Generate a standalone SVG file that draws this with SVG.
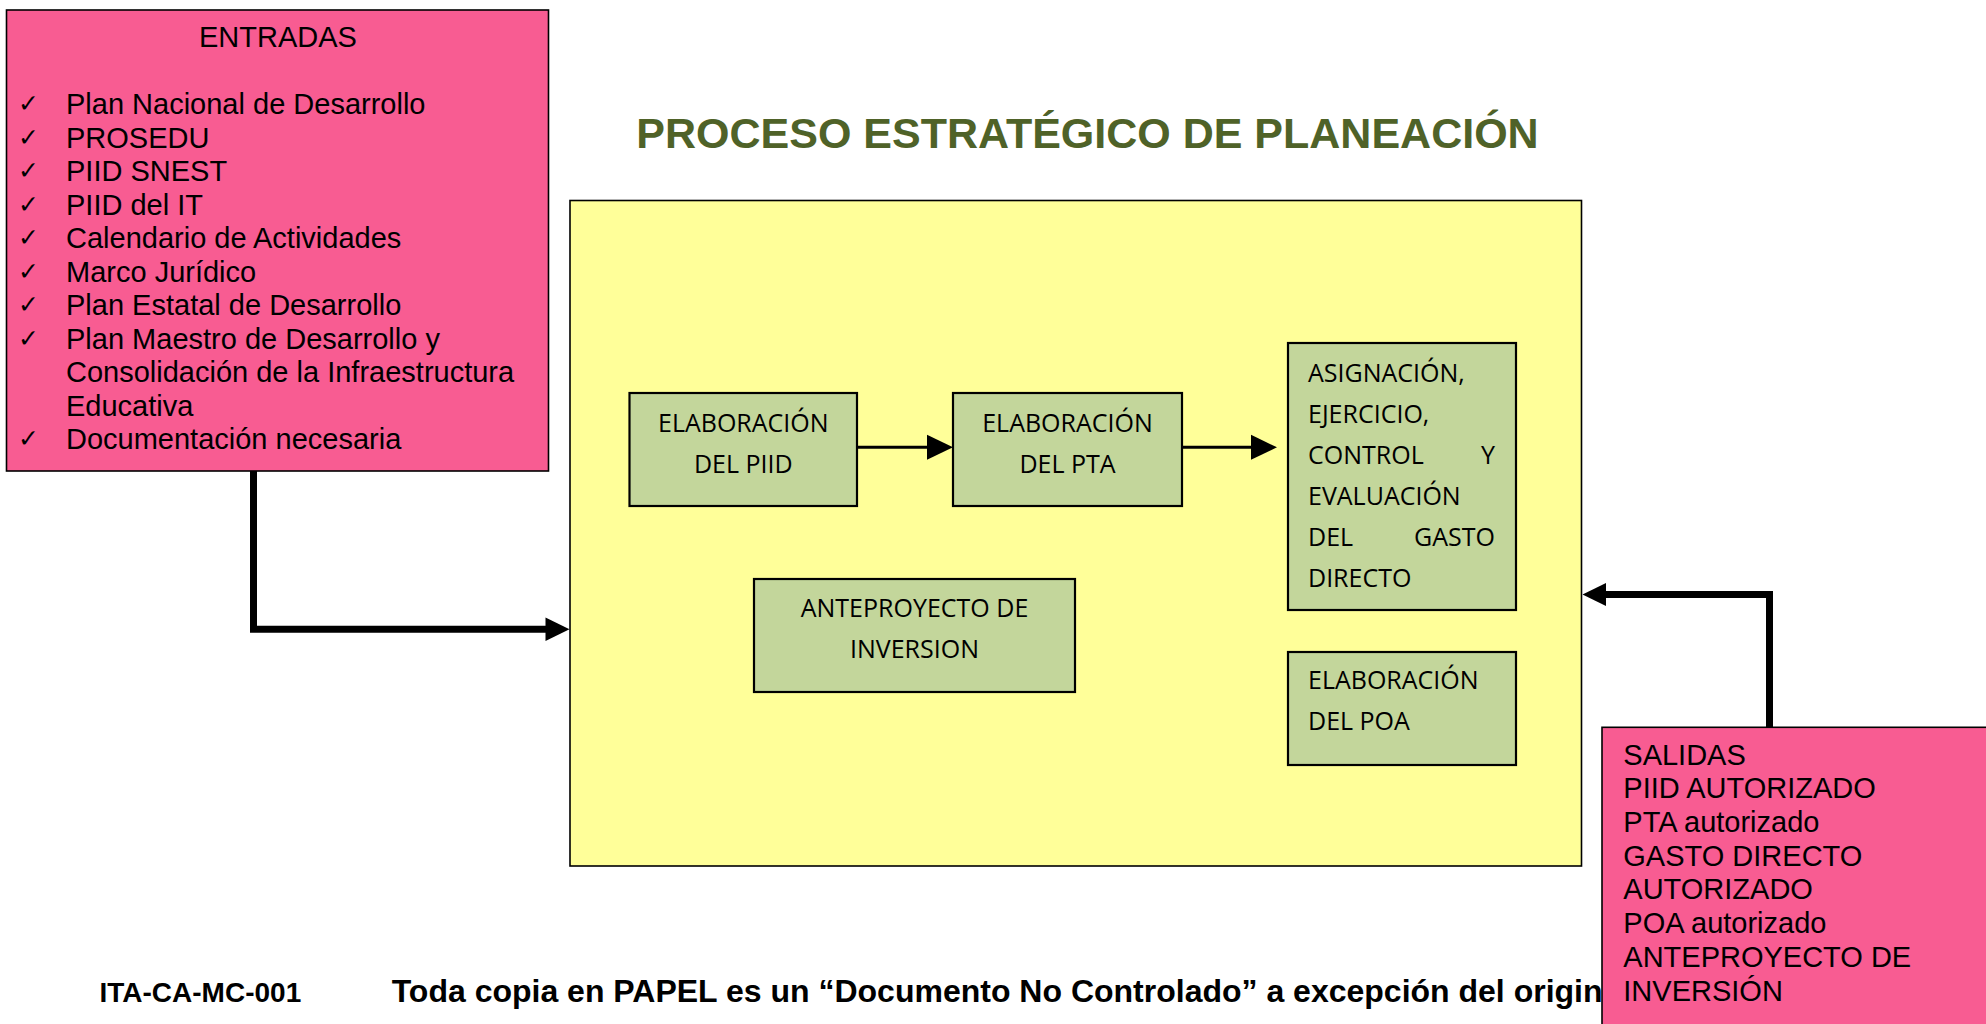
<svg xmlns="http://www.w3.org/2000/svg" width="1986" height="1024" viewBox="0 0 1986 1024">
<style>
.bg{fill:#ffffff}
.pink{fill:#F85C92;stroke:#000;stroke-width:1.6}
.yellow{fill:#FFFF99;stroke:#000;stroke-width:1.6}
.green{fill:#C3D69B;stroke:#000;stroke-width:2.2}
.arial{font-family:"Liberation Sans",Arial,sans-serif;font-size:29px;fill:#000}
.check{font-family:"DejaVu Sans",sans-serif;font-size:25px;fill:#000}
.cal{font-family:"Open Sans","Liberation Sans",sans-serif;font-size:25px;fill:#000}
.title{font-family:"Liberation Sans",Arial,sans-serif;font-size:43px;font-weight:bold;fill:#4F6228}
.foot{font-family:"Liberation Sans",Arial,sans-serif;font-weight:bold;fill:#000}
.thick{fill:none;stroke:#000;stroke-width:7;stroke-linejoin:miter}
.thin{fill:none;stroke:#000;stroke-width:3}
.head{fill:#000}
</style>
<rect class="bg" x="0" y="0" width="1986" height="1024"/>

<g id="title">
<text class="title" x="1087.5" y="148" text-anchor="middle">PROCESO ESTRATÉGICO DE PLANEACIÓN</text>
</g>

<g id="proceso">
<rect class="yellow" x="570" y="200.5" width="1011.5" height="665.5"/>
</g>

<g id="entradas">
<rect class="pink" x="6.5" y="10" width="542" height="461"/>
<text class="arial" x="278" y="46.7" text-anchor="middle">ENTRADAS</text>
<g class="check">
<text x="18" y="112">✓</text>
<text x="18" y="145.5">✓</text>
<text x="18" y="179">✓</text>
<text x="18" y="212.5">✓</text>
<text x="18" y="246">✓</text>
<text x="18" y="279.5">✓</text>
<text x="18" y="313">✓</text>
<text x="18" y="346.5">✓</text>
<text x="18" y="447">✓</text>
</g>
<text class="arial" x="66" y="114">Plan Nacional de Desarrollo</text>
<text class="arial" x="66" y="147.5">PROSEDU</text>
<text class="arial" x="66" y="181">PIID SNEST</text>
<text class="arial" x="66" y="214.5">PIID del IT</text>
<text class="arial" x="66" y="248">Calendario de Actividades</text>
<text class="arial" x="66" y="281.5">Marco Jurídico</text>
<text class="arial" x="66" y="315">Plan Estatal de Desarrollo</text>
<text class="arial" x="66" y="348.5">Plan Maestro de Desarrollo y</text>
<text class="arial" x="66" y="382">Consolidación de la Infraestructura</text>
<text class="arial" x="66" y="415.5">Educativa</text>
<text class="arial" x="66" y="449">Documentación necesaria</text>
</g>

<g id="piid">
<rect class="green" x="629.5" y="393" width="227.5" height="113"/>
<text class="cal" x="743.3" y="431.7" text-anchor="middle">ELABORACIÓN</text>
<text class="cal" x="743.3" y="472.7" text-anchor="middle">DEL PIID</text>
</g>

<g id="pta">
<rect class="green" x="953" y="393" width="229" height="113"/>
<text class="cal" x="1067.5" y="431.7" text-anchor="middle">ELABORACIÓN</text>
<text class="cal" x="1067.5" y="472.7" text-anchor="middle">DEL PTA</text>
</g>

<g id="asignacion">
<rect class="green" x="1288" y="343" width="228" height="267"/>
<text class="cal" x="1308" y="381.7">ASIGNACIÓN,</text>
<text class="cal" x="1308" y="422.7">EJERCICIO,</text>
<text class="cal" x="1308" y="463.5">CONTROL</text>
<text class="cal" x="1495" y="463.5" text-anchor="end">Y</text>
<text class="cal" x="1308" y="504.7">EVALUACIÓN</text>
<text class="cal" x="1308" y="545.7">DEL</text>
<text class="cal" x="1495" y="545.7" text-anchor="end">GASTO</text>
<text class="cal" x="1308" y="586.7">DIRECTO</text>
</g>

<g id="anteproyecto">
<rect class="green" x="754" y="579" width="321" height="113"/>
<text class="cal" x="914.5" y="616.7" text-anchor="middle">ANTEPROYECTO DE</text>
<text class="cal" x="914.5" y="658.3" text-anchor="middle">INVERSION</text>
</g>

<g id="poa">
<rect class="green" x="1288" y="652" width="228" height="113"/>
<text class="cal" x="1308" y="689.3">ELABORACIÓN</text>
<text class="cal" x="1308" y="730">DEL POA</text>
</g>

<g id="footer">
<text class="foot" x="99.5" y="1001.7" font-size="28">ITA-CA-MC-001</text>
<text class="foot" x="391.7" y="1001.7" font-size="32">Toda copia en PAPEL es un “Documento No Controlado” a excepción del original</text>
</g>

<g id="connectors">
<line class="thin" x1="857" y1="447.3" x2="929" y2="447.3"/>
<polygon class="head" points="953,447.3 927,434.8 927,459.8"/>
<line class="thin" x1="1182" y1="447.3" x2="1253" y2="447.3"/>
<polygon class="head" points="1277,447.3 1251,434.8 1251,459.8"/>
<path class="thick" d="M253.5,471 V629.3 H547"/>
<polygon class="head" points="569.5,629.3 545.5,617.5 545.5,641.1"/>
<path class="thick" d="M1769.5,727 V594.5 H1604"/>
<polygon class="head" points="1582.5,594.5 1606,583 1606,606"/>
</g>

<g id="salidas">
<rect class="pink" x="1602" y="727.3" width="400" height="320"/>
<text class="arial" x="1623.3" y="765">SALIDAS</text>
<text class="arial" x="1623.3" y="798.4">PIID AUTORIZADO</text>
<text class="arial" x="1623.3" y="831.8">PTA autorizado</text>
<text class="arial" x="1623.3" y="865.8">GASTO DIRECTO</text>
<text class="arial" x="1623.3" y="899.3">AUTORIZADO</text>
<text class="arial" x="1623.3" y="932.8">POA autorizado</text>
<text class="arial" x="1623.3" y="967.2">ANTEPROYECTO DE</text>
<text class="arial" x="1623.3" y="1000.7">INVERSIÓN</text>
</g>
</svg>
